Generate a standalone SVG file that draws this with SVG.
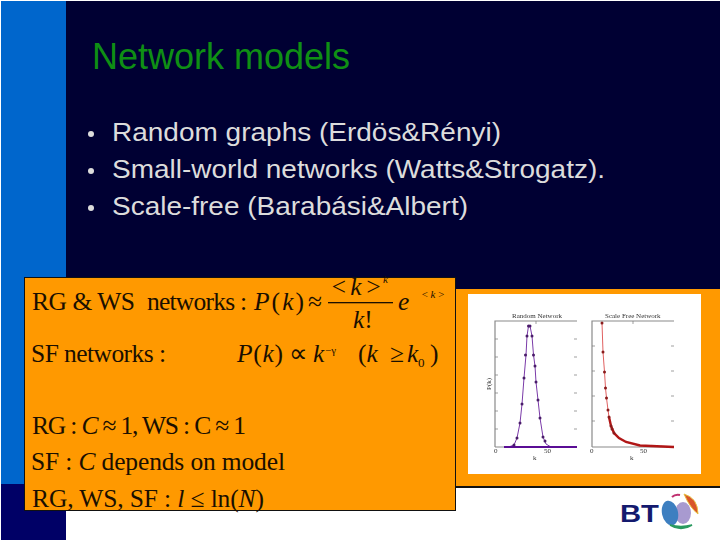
<svg xmlns="http://www.w3.org/2000/svg" width="720" height="540" viewBox="0 0 720 540">
<style>
.b{font-family:"Liberation Sans",Arial,sans-serif}
.t{font-family:"Liberation Serif","Times New Roman",serif;fill:#1a0f00;font-size:25.5px}
.i{font-style:italic}
.sm{font-size:11px}
.sb{font-size:13px}
.s{font-family:"Liberation Serif",serif;fill:#333;font-size:7px}
.ax{fill:none;stroke:#8a8a8a;stroke-width:1.200}
.tk{fill:none;stroke:#777;stroke-width:.7}
</style>
<defs><filter id="soft" x="-5%" y="-5%" width="110%" height="110%"><feGaussianBlur stdDeviation="0.35"/></filter></defs>
<rect width="720" height="540" fill="#fff"/>
<rect x="66" y="1" width="654" height="487" fill="#000033"/>
<rect x="1" y="1" width="65" height="484" fill="#0066cc"/>
<rect x="1" y="484" width="65" height="56" fill="#000066"/>
<text class="b" x="92" y="69" font-size="36" fill="#0f8f14">Network models</text>
<g class="b" font-size="28" fill="#dcdcdc" style="font-size:25.500px">
<circle cx="91" cy="134" r="3"/><circle cx="91" cy="171" r="3"/><circle cx="91" cy="208" r="3"/>
<text x="112" y="141" textLength="389" lengthAdjust="spacingAndGlyphs">Random graphs (Erdös&amp;Rényi)</text>
<text x="112" y="178" textLength="493" lengthAdjust="spacingAndGlyphs">Small-world networks (Watts&amp;Strogatz).</text>
<text x="112" y="215" textLength="356" lengthAdjust="spacingAndGlyphs">Scale-free (Barabási&amp;Albert)</text>
</g>
<rect x="456" y="289" width="264" height="197" fill="#ff9900"/>
<rect x="456" y="486" width="264" height="2" fill="#111"/>
<rect x="468" y="294" width="233" height="180" fill="#fff"/>
<g id="plots" filter="url(#soft)">
<path class="ax" d="M495 447V321H577M495 447H577"/>
<path class="ax" d="M592 447V321H674M592 447H674"/>
<path class="tk" d="M495 339h3M495 357h3M495 375h3M495 393h3M495 411h3M495 429h3M577 339h-3M577 357h-3M577 375h-3M577 393h-3M577 411h-3M577 429h-3M592 346h3M592 371h3M592 396h3M592 421h3M674 346h-3M674 371h-3M674 396h-3M674 421h-3M536 321v3M633 321v3"/>
<path d="M504 447L510 446.500 514 445 517 438 520 423 522 404 524 378 526 355 527 336 528.500 326 530 326 532 336 533.500 355 535 366 536 382 538 400 540 418 543 437 546 444 551 447 577 447" fill="none" stroke="#7a3aa8" stroke-width="1"/>
<path d="M504 447H577" stroke="#5a0a95" stroke-width="2"/>
<g fill="#4a1a6a"><circle cx="514" cy="445" r="1.500"/><circle cx="517" cy="438" r="1.500"/><circle cx="520" cy="423" r="1.500"/><circle cx="522" cy="404" r="1.500"/><circle cx="524" cy="378" r="1.500"/><circle cx="525.500" cy="355" r="1.500"/><circle cx="527" cy="336" r="1.500"/><circle cx="528.500" cy="326" r="1.500"/><circle cx="530" cy="326" r="1.500"/><circle cx="532" cy="336" r="1.500"/><circle cx="533.500" cy="355" r="1.500"/><circle cx="535" cy="366" r="1.500"/><circle cx="536" cy="382" r="1.500"/><circle cx="538" cy="400" r="1.500"/><circle cx="540" cy="418" r="1.500"/><circle cx="543" cy="437" r="1.500"/><circle cx="545" cy="441" r="1.500"/></g>
<path d="M602 323L603 352 604.500 372 605.500 388 606.500 398 608 410 609 417" fill="none" stroke="#e06060" stroke-width="1"/>
<path d="M609 417L611 426 614 433 619 438 626 442 640 445.500 674 447" fill="none" stroke="#b01515" stroke-width="2.400"/>
<g fill="#8a1a1a"><circle cx="602" cy="323" r="1.500"/><circle cx="603" cy="352" r="1.500"/><circle cx="604.500" cy="372" r="1.500"/><circle cx="605.500" cy="388" r="1.500"/><circle cx="606.500" cy="398" r="1.500"/><circle cx="608" cy="410" r="1.500"/><circle cx="609" cy="417" r="1.500"/><circle cx="611" cy="426" r="1.500"/><circle cx="612" cy="429" r="1.500"/><circle cx="614" cy="433" r="1.500"/></g>
<text class="s" x="512" y="318">Random Network</text>
<text class="s" x="605" y="318">Scale Free Network</text>
<text class="s" x="494" y="453">0</text><text class="s" x="544" y="453">50</text>
<text class="s" x="590" y="453">0</text><text class="s" x="640" y="453">50</text>
<text class="s" x="533" y="460">k</text><text class="s" x="630" y="460">k</text>
<text class="s" transform="translate(491 390) rotate(-90)">P(k)</text>
</g>
<rect x="24.500" y="277.500" width="431" height="233" fill="#ff9900" stroke="#111"/>
<g id="equations" class="t">
<text x="32" y="310" textLength="103">RG &amp; WS</text>
<text x="147" y="310" textLength="100">networks :</text>
<text x="254" y="310" textLength="50"><tspan class="i">P</tspan>(<tspan class="i">k</tspan>)</text>
<text x="308" y="310">≈</text>
<text x="330" y="295" class="i" textLength="52">&lt; k &gt;</text>
<text x="383" y="283" class="i sm">k</text>
<rect x="328" y="302" width="65" height="1.300" fill="#1a0f00"/>
<text x="353" y="328"><tspan class="i">k</tspan>!</text>
<text x="398" y="310" class="i">e</text>
<text x="421" y="298" class="i sm" textLength="24">&lt;k&gt;</text>
<text x="31" y="362" textLength="135">SF networks :</text>
<text x="237" y="362" textLength="46"><tspan class="i">P</tspan>(<tspan class="i">k</tspan>)</text>
<text x="289" y="362">∝</text>
<text x="313" y="362" class="i">k</text>
<text x="325" y="354" class="sm">−γ</text>
<text x="358" y="362">(<tspan class="i">k</tspan></text>
<text x="390" y="362">≥</text>
<text x="407" y="362" class="i">k</text>
<text x="418" y="367" class="sb">0</text>
<text x="430" y="362">)</text>
<text x="32" y="434" textLength="214">RG : <tspan class="i">C</tspan> ≈ 1, WS : C ≈ 1</text>
<text x="31" y="470" textLength="254">SF : <tspan class="i">C</tspan> depends  on model</text>
<text x="32" y="507" textLength="232">RG, WS, SF : <tspan class="i">l</tspan> ≤ ln(<tspan class="i">N</tspan>)</text>
</g>
<g id="logo">
<text x="620" y="522" font-family="'Liberation Sans',sans-serif" font-weight="700" font-size="23" fill="#141a6e" textLength="39" lengthAdjust="spacingAndGlyphs">BT</text>
<ellipse cx="683" cy="513" rx="8" ry="11" fill="#a89ad0"/>
<ellipse cx="670" cy="513" rx="8" ry="12.500" fill="#3d7fc0" transform="rotate(-12 670 513)"/>
<path d="M684 494Q698 498 698 514Q690 508 684 494Z" fill="#d9552a" stroke="#e8c040" stroke-width="1"/>
<path d="M670 525Q681 532 692 525Q681 528 670 525Z" fill="#2a9a60" stroke="#2a9a60" stroke-width="1.500"/>
<path d="M672 497Q675 494 680 495" stroke="#c03070" stroke-width="2" fill="none"/>
</g>
</svg>
